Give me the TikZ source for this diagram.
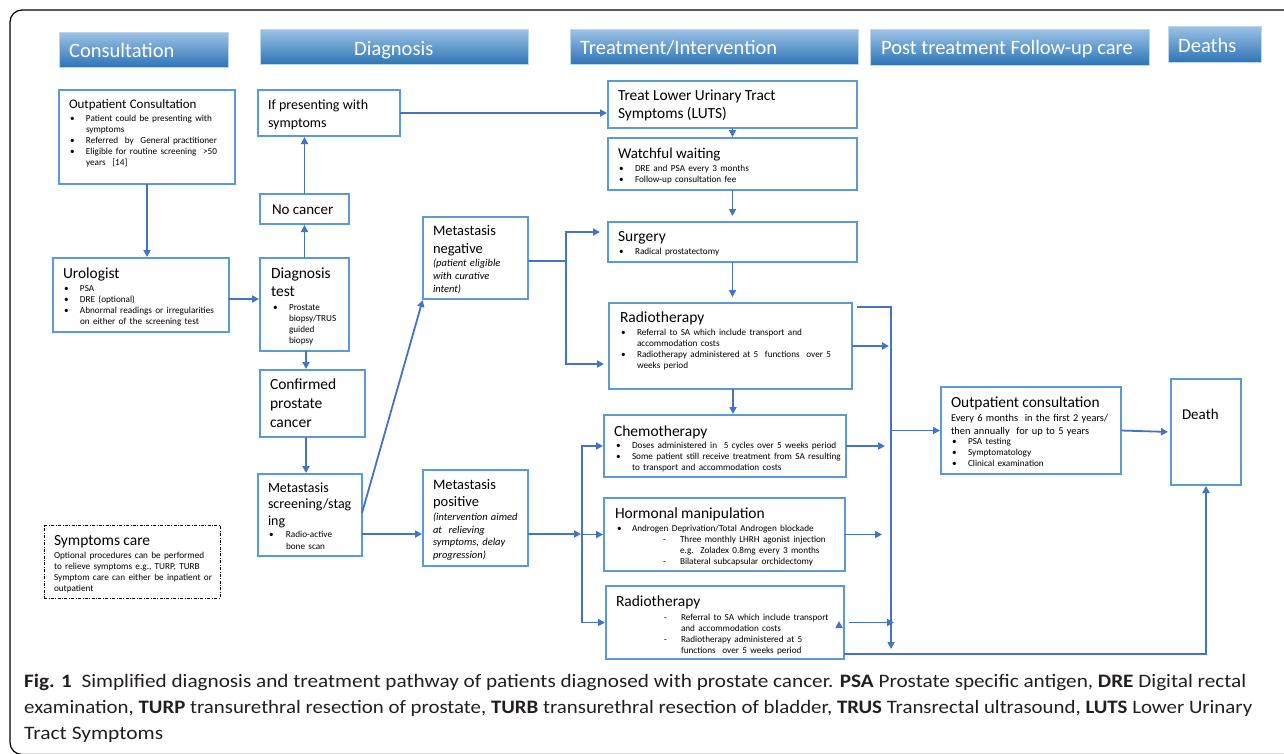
\documentclass[tikz,border=0pt]{standalone}
\usepackage{fontspec}
\setmainfont{Carlito}
\usepackage{graphicx}
\usetikzlibrary{arrows.meta,calc}
\definecolor{boxblue}{HTML}{5B9BD5}
\definecolor{lineblue}{HTML}{4472C4}
\definecolor{hdrtop}{HTML}{9DC3E6}
\definecolor{hdrbot}{HTML}{2E75B6}
\definecolor{hdrline}{HTML}{BDD7EE}
\definecolor{captxt}{HTML}{231F20}
\newlength\bind \setlength\bind{17pt}
\newlength\boff \setlength\boff{1pt}
\newlength\dind \setlength\dind{65pt}
\newlength\doff \setlength\doff{48pt}
\newcommand\bodyf{\fontsize{9.2}{11}\selectfont}
\newcommand\bitem[1]{\par\noindent\hspace*{\boff}\makebox[\dimexpr\bind-\boff\relax][l]{\textbullet}#1\par}
\newcommand\citem[1]{\par\noindent\hspace*{\bind}#1\par}
\newcommand\ditem[1]{\par\noindent\hspace*{\doff}\makebox[\dimexpr\dind-\doff\relax][l]{-}#1\par}
\newcommand\dcitem[1]{\par\noindent\hspace*{\dind}#1\par}
\newcommand\mybox[6][box]{\node[#1, minimum width={(#5-#3)*1pt}, minimum height={(#6-#4)*1pt}] (#2) at ({(#3+#5)/2},{(#4+#6)/2}) {};}
\begin{document}
\begin{tikzpicture}[x=1pt,y=-1pt,
  box/.style={draw=boxblue, line width=2pt, inner sep=0pt, outer sep=0pt, fill=white},
  dashbox/.style={draw=black, line width=0.8pt, inner sep=0pt, outer sep=0pt, dash pattern=on 3pt off 1.5pt on 0.8pt off 1.5pt},
  hdr/.style={draw=hdrline, line width=0.6pt, top color=hdrtop, bottom color=hdrbot, inner sep=0pt, outer sep=0pt},
  hdrtxt/.style={text=white, font=\fontsize{20.5}{24}\selectfont, anchor=base west, inner sep=0pt},
  txt/.style={anchor=base west, inner sep=0pt, outer sep=0pt, text width=250pt, align=left},
  ln/.style={draw=lineblue, line width=1.8pt},
  arr/.style={ln, -{Triangle[length=7pt,width=7pt]}, shorten >=1pt},
  captx/.style={anchor=base west, inner sep=0pt, text=captxt, font=\fontsize{19}{23}\selectfont}]
\useasboundingbox (0,0) rectangle (1284,753);
\fill[white] (0,0) rectangle (1284,753);
% outer frame
\draw[black, line width=1.2pt, rounded corners=12pt] (10,10) rectangle (1320,754.5);

% headers
\mybox[hdr]{h1}{59}{32}{228}{67}
\mybox[hdr]{h2}{260}{29}{528}{64}
\mybox[hdr]{h3}{570}{29}{858}{64}
\mybox[hdr]{h4}{870}{29}{1149}{65}
\mybox[hdr]{h5}{1168}{26}{1261}{62}
\node[hdrtxt] at (69,57) {Consultation};
\node[hdrtxt] at (354,55) {Diagnosis};
\node[hdrtxt] at (580,54) {Treatment/Intervention};
\node[hdrtxt] at (881,54) {Post treatment Follow-up care};
\node[hdrtxt] at (1178,52) {Deaths};

% boxes
\mybox{oc}{59}{90}{235}{184}
\mybox{ifp}{258}{90}{400}{136}
\mybox{nc}{260}{194}{349}{224}
\mybox{uro}{53}{258}{229}{332}
\mybox{dt}{260}{258}{349}{351}
\mybox{conf}{260}{370}{365}{437}
\mybox{scr}{258}{474}{362}{556}
\mybox[dashbox]{sym}{44}{525}{220}{598}
\mybox{mneg}{423}{217}{528}{299}
\mybox{mpos}{423}{470}{528}{566}
\mybox{luts}{608}{81}{857}{128}
\mybox{ww}{608}{138}{857}{190}
\mybox{surg}{608}{222}{857}{262}
\mybox{r1}{609}{303}{852}{389}
\mybox{ch}{604}{415}{846}{477}
\mybox{hm}{604}{498}{845}{571}
\mybox{r2}{606}{586}{844}{659}
\mybox{opc}{941}{387}{1121}{474}
\mybox{death}{1171}{379}{1241}{485}

% texts
\node[txt] at (69,108.5) {{\fontsize{13}{14}\selectfont Outpatient Consultation\par}\bodyf\vspace*{1.5pt}\bitem{Patient could be presenting with}\citem{symptoms}\bitem{Referred\ \ by\ \ General practitioner}\bitem{Eligible for routine screening\ \ >50}\citem{years\ \ [14]}};
\node[txt] at (268,109) {\fontsize{14}{18}\selectfont If presenting with\par symptoms\par};
\node[txt] at (272,214) {\fontsize{15}{18}\selectfont No cancer\par};
\node[txt] at (63,278) {{\fontsize{15.4}{18}\selectfont Urologist\par}\bodyf\vspace*{2.5pt}\bitem{PSA}\bitem{DRE (optional)}\bitem{Abnormal readings or irregularities}\citem{on either of the screening test}};
\node[txt] at (271,278.5) {\setlength\boff{2pt}\setlength\bind{18pt}{\fontsize{15.5}{18}\selectfont Diagnosis\par test\par}\bodyf\vspace*{3pt}\bitem{Prostate}\citem{biopsy/TRUS}\citem{guided}\citem{biopsy}};
\node[txt] at (270,389) {\fontsize{15.5}{19}\selectfont Confirmed\par prostate\par cancer\par};
\node[txt] at (268,492) {\setlength\bind{18pt}{\fontsize{14}{16.5}\selectfont Metastasis\par screening/stag\par ing\par}\fontsize{9.2}{11.5}\selectfont\vspace*{1pt}\bitem{Radio-active}\citem{bone scan}};
\node[txt] at (54,545) {{\fontsize{15.5}{18}\selectfont Symptoms care\par}\bodyf\vspace*{2.5pt}Optional procedures can be performed\par to relieve symptoms e.g., TURP, TURB\par Symptom care can either be inpatient or\par outpatient\par};
\node[txt] at (433,235) {{\fontsize{14.5}{18}\selectfont Metastasis\par negative\par}\fontsize{10.5}{13}\selectfont\itshape\vspace*{0.5pt}(patient eligible\par with curative\par intent)\par};
\node[txt] at (433,489) {{\fontsize{14.5}{17}\selectfont Metastasis\par positive\par}\fontsize{10.5}{12.5}\selectfont\itshape\vspace*{2pt}(intervention aimed\par at\ \ relieving\par symptoms, delay\par progression)\par};
\node[txt] at (618,100) {\fontsize{15.4}{18}\selectfont Treat Lower Urinary Tract\par Symptoms (LUTS)\par};
\node[txt] at (618,158) {{\fontsize{15}{18}\selectfont Watchful waiting\par}\bodyf\vspace*{2.5pt}\bitem{DRE and PSA every 3 months}\bitem{Follow-up consultation fee}};
\node[txt] at (618,241) {{\fontsize{15.5}{18}\selectfont Surgery\par}\bodyf\vspace*{2.5pt}\bitem{Radical prostatectomy}};
\node[txt] at (620,322) {{\fontsize{15.5}{18}\selectfont Radiotherapy\par}\bodyf\vspace*{2.5pt}\bitem{Referral to SA which include transport and}\citem{accommodation costs}\bitem{Radiotherapy administered at 5\ \ functions\ \ over 5}\citem{weeks period}};
\node[txt] at (614,436) {\setlength\boff{2pt}\setlength\bind{18pt}{\fontsize{15.5}{18}\selectfont Chemotherapy\par}\bodyf\vspace*{1.5pt}\bitem{Doses administered in\ \ 5 cycles over 5 weeks period}\bitem{Some patient still receive treatment from SA resulting}\citem{to transport and accommodation costs}};
\node[txt] at (615,518) {\setlength\boff{2pt}\setlength\bind{17pt}{\fontsize{15.5}{18}\selectfont Hormonal manipulation\par}\bodyf\vspace*{2pt}\bitem{Androgen Deprivation/Total Androgen blockade}\ditem{Three monthly LHRH agonist injection}\dcitem{e.g.\ \ Zoladex 0.8mg every 3 months}\ditem{Bilateral subcapsular orchidectomy}};
\node[txt] at (616,606) {{\fontsize{15.5}{18}\selectfont Radiotherapy\par}\bodyf\vspace*{3pt}\ditem{Referral to SA which include transport}\dcitem{and accommodation costs}\ditem{Radiotherapy administered at 5}\dcitem{functions\ \ over 5 weeks period}};
\node[txt] at (951,407) {{\fontsize{15.4}{18}\selectfont Outpatient consultation\par}\fontsize{10.4}{13}\selectfont\vspace*{1pt}Every 6 months\ \ in the first 2 years/\par then annually\ \ for up to 5 years\par\bodyf\vspace*{-0.5pt}\bitem{PSA testing}\bitem{Symptomatology}\bitem{Clinical examination}};
\node[txt] at (1182,419) {\fontsize{15}{18}\selectfont Death\par};

% junction coordinates
\coordinate (jn) at (566,261);
\coordinate (jp) at (582,534);
\coordinate (bt) at (891,307);
\coordinate (bb) at (891,650);
\coordinate (st) at (839,627);

% connectors: consultation / diagnosis
\draw[arr] (oc.south) -- (oc.south |- uro.north);
\draw[arr] ([yshift=-4pt]uro.east) -- ([yshift=-4pt]uro.east -| dt.west);
\draw[arr] (dt.north) -- (nc.south);
\draw[arr] (nc.north) -- (nc.north |- ifp.south);
\draw[arr] (ifp.east) -- (ifp.east -| luts.west);
\draw[arr] ([xshift=1.5pt]dt.south) -- ([xshift=1.5pt]dt.south |- conf.north);
\draw[arr] ([xshift=-6.5pt]conf.south) -- ([xshift=-6.5pt]conf.south |- scr.north);
\draw[arr] ([yshift=2pt]scr.east) -- (mneg.south west);
\draw[arr] ([yshift=-19pt]scr.east) -- ([yshift=-19pt]scr.east -| mpos.west);
\draw[ln] ([yshift=-3pt]mneg.east) -- (jn);
\draw[arr, shorten >=8pt] (jn) |- ([yshift=10pt]surg.west);
\draw[arr, shorten >=5pt] (jn) |- ([yshift=-18pt]r1.west);
\draw[arr] ([yshift=-16pt]mpos.east) -- (jp);
\draw[arr] (jp) |- (ch.west);
\draw[arr] (jp) |- (hm.west);
\draw[arr] (jp) |- (r2.west);

% treatment column
\draw[arr] (luts.south) -- (ww.north);
\draw[arr, shorten >=6pt] (ww.south) -- (surg.north);
\draw[arr, shorten >=6pt] (surg.south) -- (surg.south |- r1.north);
\draw[arr] ([xshift=2.5pt]r1.south) -- ([xshift=2.5pt]r1.south |- ch.north);

% right bus
\draw[arr] ([xshift=5pt,yshift=-4pt]r1.north east) -| (bb);
\draw[arr, shorten >=2pt] (r1.east) -- (r1.east -| bt);
\draw[arr, shorten >=6pt] (ch.east) -- (ch.east -| bt);
\draw[arr, shorten >=9pt] (hm.east) -- (hm.east -| bt);
\draw[arr, shorten >=2pt] ([xshift=5pt]r2.east) -- ([xshift=5pt]r2.east -| bt);
\draw[arr] (st) -- ++(0,-7);
\draw[arr] (opc.west -| bt) -- (opc.west);
\draw[arr, shorten >=3pt] (opc.east) -- (death.west);
\draw[arr] ([yshift=-31.5pt]r2.east) -| (death.south);

% caption
\node[captx] (cap1) at (24,687.5) {\resizebox{1222pt}{\height}{\textbf{Fig. 1}\ \ Simplified diagnosis and treatment pathway of patients diagnosed with prostate cancer. \textbf{PSA} Prostate specific antigen, \textbf{DRE} Digital rectal}};
\node[captx] (cap2) at (24,713.5) {\resizebox{1228pt}{\height}{examination, \textbf{TURP} transurethral resection of prostate, \textbf{TURB} transurethral resection of bladder, \textbf{TRUS} Transrectal ultrasound, \textbf{LUTS} Lower Urinary}};
\node[captx] (cap3) at (24,739.5) {\resizebox{139pt}{\height}{Tract Symptoms}};
\end{tikzpicture}
\end{document}
